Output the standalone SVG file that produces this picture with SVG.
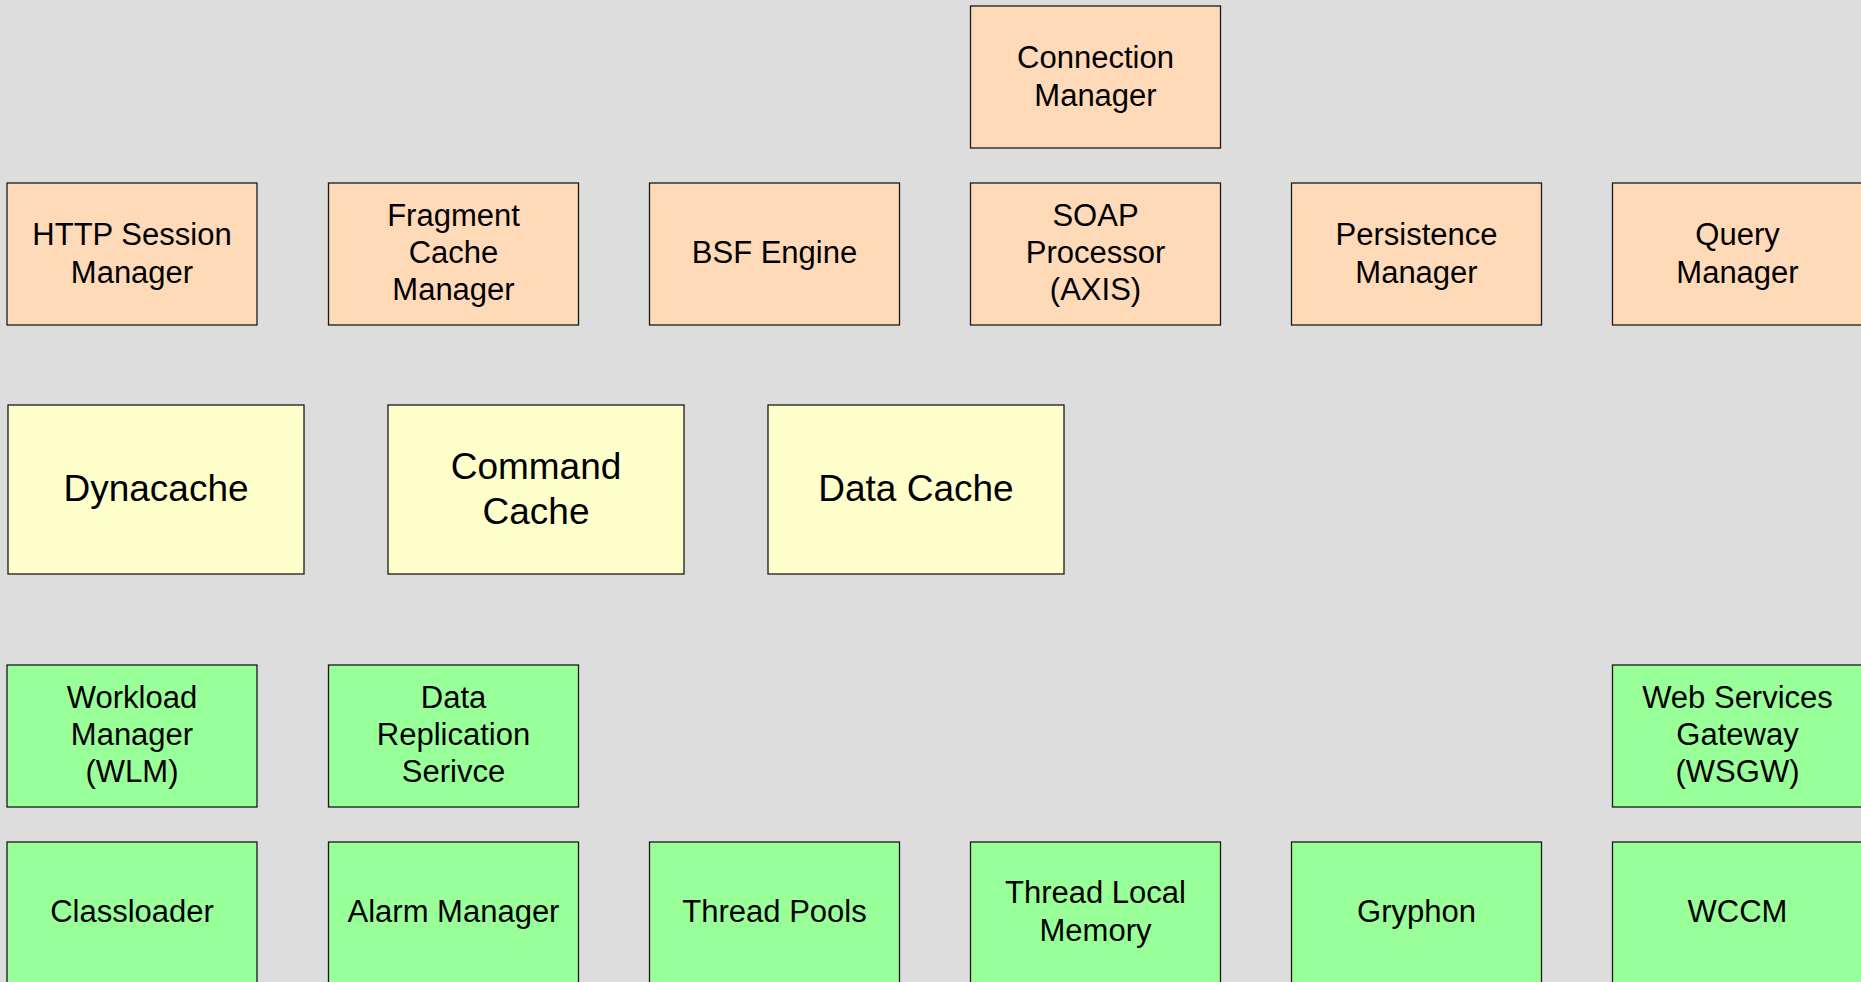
<svg xmlns="http://www.w3.org/2000/svg" width="1861" height="982" viewBox="0 0 1861 982">
  <style>
    .box { stroke: #1a1a1a; stroke-width: 1.3; }
    .peach { fill: #FFDAB9; }
    .cream { fill: #FFFFCC; }
    .green { fill: #99FF99; }
    text { font-family: "Liberation Sans", Arial, Helvetica, sans-serif; fill: #000; text-anchor: middle; }
    .t { font-size: 31px; }
    .big { font-size: 37px; }
  </style>
  <rect x="0" y="0" width="1861" height="982" fill="#DDDDDD"/>

  <!-- top service row -->
  <g id="connection-manager">
    <rect class="box peach" x="970.5" y="6" width="250" height="142"/>
    <text class="t" x="1095.5" y="68">Connection</text>
    <text class="t" x="1095.5" y="105.5">Manager</text>
  </g>

  <g id="http-session-manager">
    <rect class="box peach" x="7" y="183" width="250" height="142"/>
    <text class="t" x="132" y="245">HTTP Session</text>
    <text class="t" x="132" y="282.5">Manager</text>
  </g>
  <g id="fragment-cache-manager">
    <rect class="box peach" x="328.5" y="183" width="250" height="142"/>
    <text class="t" x="453.5" y="226">Fragment</text>
    <text class="t" x="453.5" y="263">Cache</text>
    <text class="t" x="453.5" y="300">Manager</text>
  </g>
  <g id="bsf-engine">
    <rect class="box peach" x="649.5" y="183" width="250" height="142"/>
    <text class="t" x="774.5" y="263">BSF Engine</text>
  </g>
  <g id="soap-processor">
    <rect class="box peach" x="970.5" y="183" width="250" height="142"/>
    <text class="t" x="1095.5" y="226">SOAP</text>
    <text class="t" x="1095.5" y="263">Processor</text>
    <text class="t" x="1095.5" y="300">(AXIS)</text>
  </g>
  <g id="persistence-manager">
    <rect class="box peach" x="1291.5" y="183" width="250" height="142"/>
    <text class="t" x="1416.5" y="245">Persistence</text>
    <text class="t" x="1416.5" y="282.5">Manager</text>
  </g>
  <g id="query-manager">
    <rect class="box peach" x="1612.5" y="183" width="250" height="142"/>
    <text class="t" x="1737.5" y="245">Query</text>
    <text class="t" x="1737.5" y="282.5">Manager</text>
  </g>

  <!-- caching row -->
  <g id="dynacache">
    <rect class="box cream" x="8" y="405" width="296" height="169"/>
    <text class="big" x="156" y="501">Dynacache</text>
  </g>
  <g id="command-cache">
    <rect class="box cream" x="388" y="405" width="296" height="169"/>
    <text class="big" x="536" y="478.5">Command</text>
    <text class="big" x="536" y="523.5">Cache</text>
  </g>
  <g id="data-cache">
    <rect class="box cream" x="768" y="405" width="296" height="169"/>
    <text class="big" x="916" y="501">Data Cache</text>
  </g>

  <!-- runtime services -->
  <g id="workload-manager">
    <rect class="box green" x="7" y="665" width="250" height="142"/>
    <text class="t" x="132" y="708">Workload</text>
    <text class="t" x="132" y="745">Manager</text>
    <text class="t" x="132" y="782">(WLM)</text>
  </g>
  <g id="data-replication-service">
    <rect class="box green" x="328.5" y="665" width="250" height="142"/>
    <text class="t" x="453.5" y="708">Data</text>
    <text class="t" x="453.5" y="745">Replication</text>
    <text class="t" x="453.5" y="782">Serivce</text>
  </g>
  <g id="web-services-gateway">
    <rect class="box green" x="1612.5" y="665" width="250" height="142"/>
    <text class="t" x="1737.5" y="708">Web Services</text>
    <text class="t" x="1737.5" y="745">Gateway</text>
    <text class="t" x="1737.5" y="782">(WSGW)</text>
  </g>

  <!-- base runtime row -->
  <g id="classloader">
    <rect class="box green" x="7" y="842" width="250" height="142"/>
    <text class="t" x="132" y="922">Classloader</text>
  </g>
  <g id="alarm-manager">
    <rect class="box green" x="328.5" y="842" width="250" height="142"/>
    <text class="t" x="453.5" y="922">Alarm Manager</text>
  </g>
  <g id="thread-pools">
    <rect class="box green" x="649.5" y="842" width="250" height="142"/>
    <text class="t" x="774.5" y="922">Thread Pools</text>
  </g>
  <g id="thread-local-memory">
    <rect class="box green" x="970.5" y="842" width="250" height="142"/>
    <text class="t" x="1095.5" y="903">Thread Local</text>
    <text class="t" x="1095.5" y="940.5">Memory</text>
  </g>
  <g id="gryphon">
    <rect class="box green" x="1291.5" y="842" width="250" height="142"/>
    <text class="t" x="1416.5" y="922">Gryphon</text>
  </g>
  <g id="wccm">
    <rect class="box green" x="1612.5" y="842" width="250" height="142"/>
    <text class="t" x="1737.5" y="922">WCCM</text>
  </g>

  <!-- no connectors are drawn between these components -->
  <g id="connectors"/>
</svg>
